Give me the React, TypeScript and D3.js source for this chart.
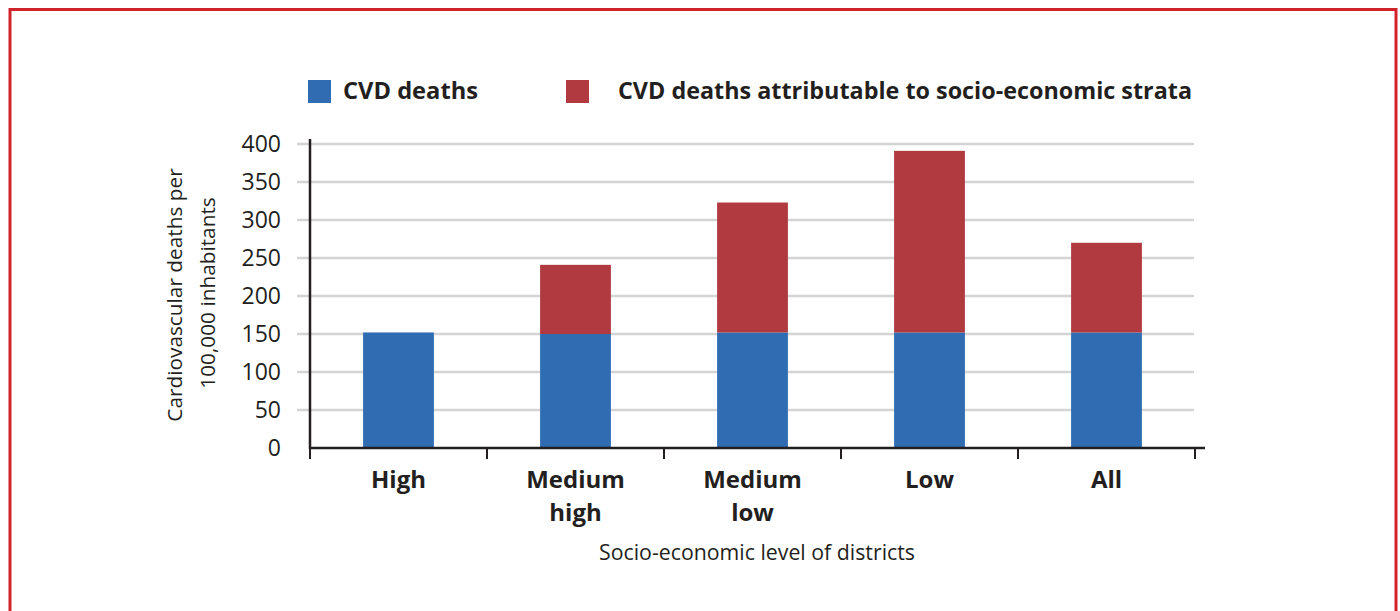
import React from "react";
import * as d3 from "d3";

const categories: string[][] = [["High"], ["Medium", "high"], ["Medium", "low"], ["Low"], ["All"]];
const categoryKeys = ["High", "Medium high", "Medium low", "Low", "All"];
const cvdDeaths = [152, 150, 152, 152, 152];
const attributable = [0, 91, 171, 239, 118];
const yTicks = [0, 50, 100, 150, 200, 250, 300, 350, 400];
const seriesNames = ["CVD deaths", "CVD deaths attributable to socio-economic strata"];
const colors = ["#2f6cb2", "#b03a40"];

const W = 1400;
const H = 611;
const left = 310;
const right = 1195;
const top = 144;
const bottom = 448;
const font = "'Open Sans', sans-serif";
const textColor = "#231f20";

export default function App() {
  const x = d3.scaleBand<string>().domain(categoryKeys).range([left, right]).padding(0);
  const y = d3.scaleLinear().domain([0, 400]).range([bottom, top]);
  const bw = x.bandwidth();
  const barW = bw * 0.4;

  const stackData = categoryKeys.map((k, i) => ({ key: k, a: cvdDeaths[i], b: attributable[i] }));
  const stack = d3.stack<any>().keys(["a", "b"])(stackData);

  const boundaries = categoryKeys.map((k) => x(k) as number).concat([right]);

  return (
    <svg width={W} height={H} style={{ position: "absolute", left: 0, top: 0, background: "#fff" }}>
      <rect x={10} y={9.5} width={1386} height={640} fill="none" stroke="#d1232a" strokeWidth={3} />

      {/* legend */}
      <rect x={308} y={80} width={23} height={23} fill={colors[0]} />
      <text x={343} y={98.5} fontFamily={font} fontWeight={700} fontSize={23.5} fill={textColor}
        textLength={135} lengthAdjust="spacingAndGlyphs">
        {seriesNames[0]}
      </text>
      <rect x={566} y={80} width={23} height={23} fill={colors[1]} />
      <text x={618} y={98.5} fontFamily={font} fontWeight={700} fontSize={23.5} fill={textColor}
        textLength={574} lengthAdjust="spacingAndGlyphs">
        {seriesNames[1]}
      </text>

      {/* gridlines */}
      {yTicks.filter((t) => t > 0).map((t) => (
        <line key={t} x1={297} x2={1194} y1={y(t)} y2={y(t)} stroke="#d4d4d4" strokeWidth={2.5} />
      ))}
      {yTicks.map((t) => (
        <text key={"l" + t} x={281} y={y(t)} dy="0.36em" textAnchor="end" fontFamily={font}
          fontSize={23} fill={textColor}>
          {t}
        </text>
      ))}

      {/* bars */}
      {stack.map((s, si) =>
        s.map((d, i) =>
          d[1] - d[0] > 0 ? (
            <rect key={si + "-" + i} x={(x(categoryKeys[i]) as number) + (bw - barW) / 2}
              y={y(d[1])} width={barW} height={y(d[0]) - y(d[1])} fill={colors[si]} />
          ) : null
        )
      )}

      {/* axes */}
      <line x1={310} x2={310} y1={139} y2={449} stroke={textColor} strokeWidth={2.5} />
      <line x1={309} x2={1205} y1={448} y2={448} stroke={textColor} strokeWidth={2.5} />
      {boundaries.map((b, i) => (
        <line key={"t" + i} x1={b} x2={b} y1={448} y2={459} stroke={textColor} strokeWidth={2} />
      ))}

      {/* x labels */}
      {categories.map((lines, i) => (
        <text key={"x" + i} x={(x(categoryKeys[i]) as number) + bw / 2} y={488} textAnchor="middle"
          fontFamily={font} fontWeight={700} fontSize={24} fill={textColor}>
          {lines.map((ln, j) => (
            <tspan key={j} x={(x(categoryKeys[i]) as number) + bw / 2} dy={j === 0 ? 0 : 32.5}>
              {ln}
            </tspan>
          ))}
        </text>
      ))}

      <text x={757} y={560} textAnchor="middle" fontFamily={font} fontSize={21.3} fill={textColor}>
        Socio-economic level of districts
      </text>

      <text transform="translate(182,295) rotate(-90)" textAnchor="middle" fontFamily={font}
        fontSize={20.8} fill={textColor}>
        Cardiovascular deaths per
      </text>
      <text transform="translate(215,293) rotate(-90)" textAnchor="middle" fontFamily={font}
        fontSize={20.8} fill={textColor}>
        100,000 inhabitants
      </text>
    </svg>
  );
}
